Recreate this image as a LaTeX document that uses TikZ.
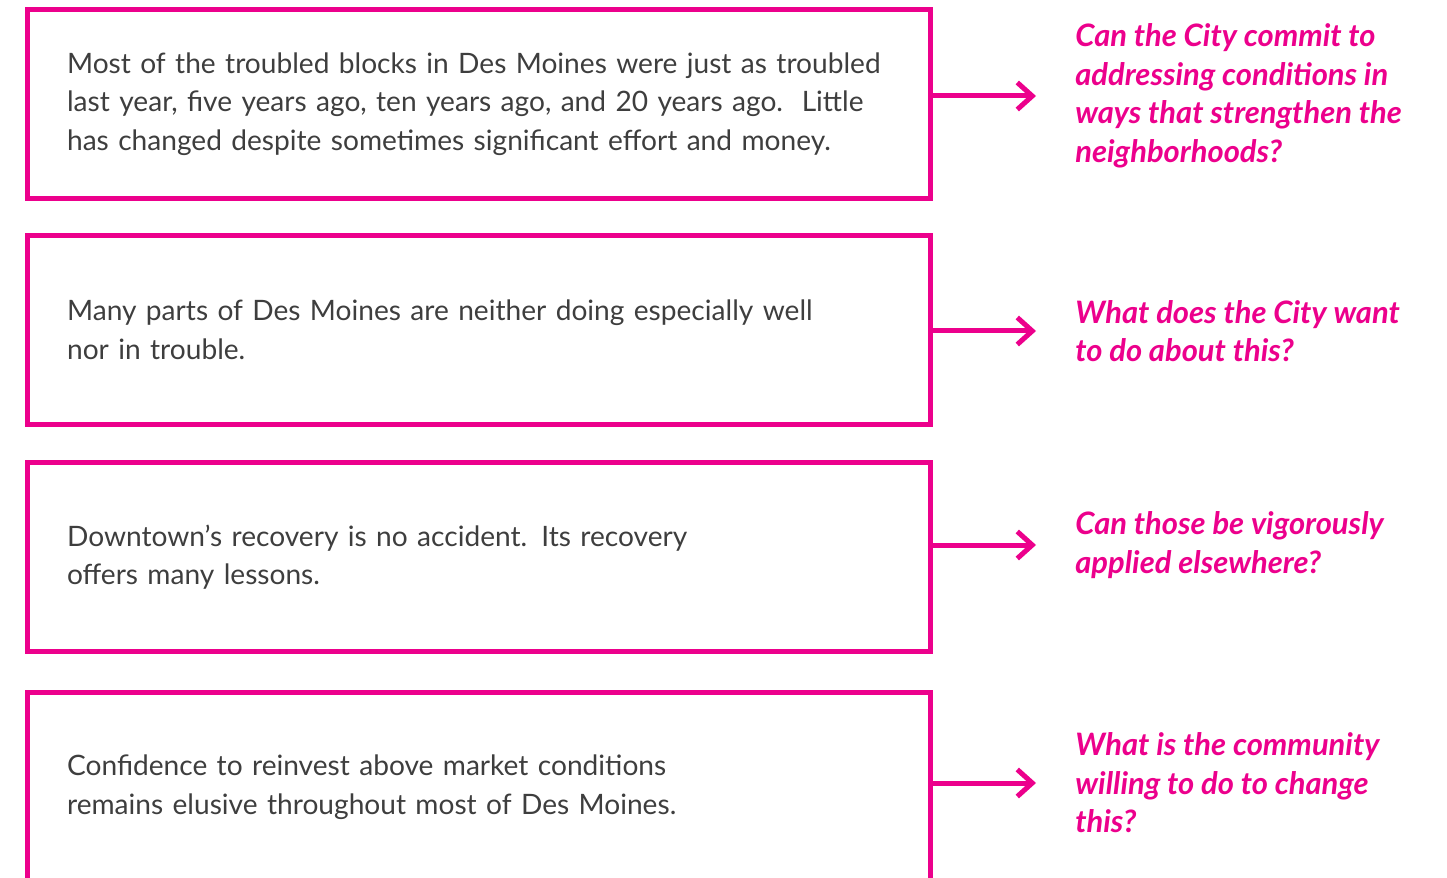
\documentclass[tikz,border=0pt]{standalone}
\usepackage{fontspec}
\setmainfont{Lato}
\usetikzlibrary{arrows.meta, positioning}
\definecolor{hotpink}{HTML}{EC008C}
\definecolor{bodygray}{HTML}{3E3E3E}

\begin{document}
\hyphenpenalty=10000
\begin{tikzpicture}[x=0.02cm, y=-0.02cm,
    finding/.style={rectangle, draw=hotpink, line width=1mm, minimum width=18.06cm, minimum height=3.78cm, text width=16.48cm, inner xsep=0.79cm, align=left, text=bodygray, font=\fontsize{16}{21.9}\selectfont},
    question/.style={anchor=west, inner sep=0pt, align=left, text=hotpink, font=\fontsize{17.6}{21.9}\selectfont\bfseries\itshape},
    arrow/.style={-{Straight Barb[length=3mm, width=5.4mm]}, line width=1mm, hotpink, shorten >=0.78cm},
]
\useasboundingbox (0,0) rectangle (1447,878);

% Findings
\node[finding] (f1) at (479,104) {Most of the troubled blocks in Des Moines were just as troubled\\last year, five years ago, ten years ago, and 20 years ago.\ \ Little\\has changed despite sometimes significant effort and money.};
\node[finding] (f2) at (479,330) {Many parts of Des Moines are neither doing especially well\\nor in trouble.};
\node[finding] (f3) at (479,557) {Downtown’s recovery is no accident. Its recovery\\offers many lessons.};
\node[finding] (f4) at (479,787) {Confidence to reinvest above market conditions\\remains elusive throughout most of Des Moines.};

% Questions
\node[question] (q1) at (1075,96) {Can the City commit to\\addressing conditions in\\ways that strengthen the\\neighborhoods?};
\node[question] (q2) at (1075,331) {What does the City want\\to do about this?};
\node[question] (q3) at (1075,545) {Can those be vigorously\\applied elsewhere?};
\node[question] (q4) at (1075,783) {What is the community\\willing to do to change\\this?};

% Arrows
\draw[arrow] (q1.west -| f1.east) -- (q1.west);
\draw[arrow] (q2.west -| f2.east) -- (q2.west);
\draw[arrow] (q3.west -| f3.east) -- (q3.west);
\draw[arrow] (q4.west -| f4.east) -- (q4.west);
\end{tikzpicture}
\end{document}
